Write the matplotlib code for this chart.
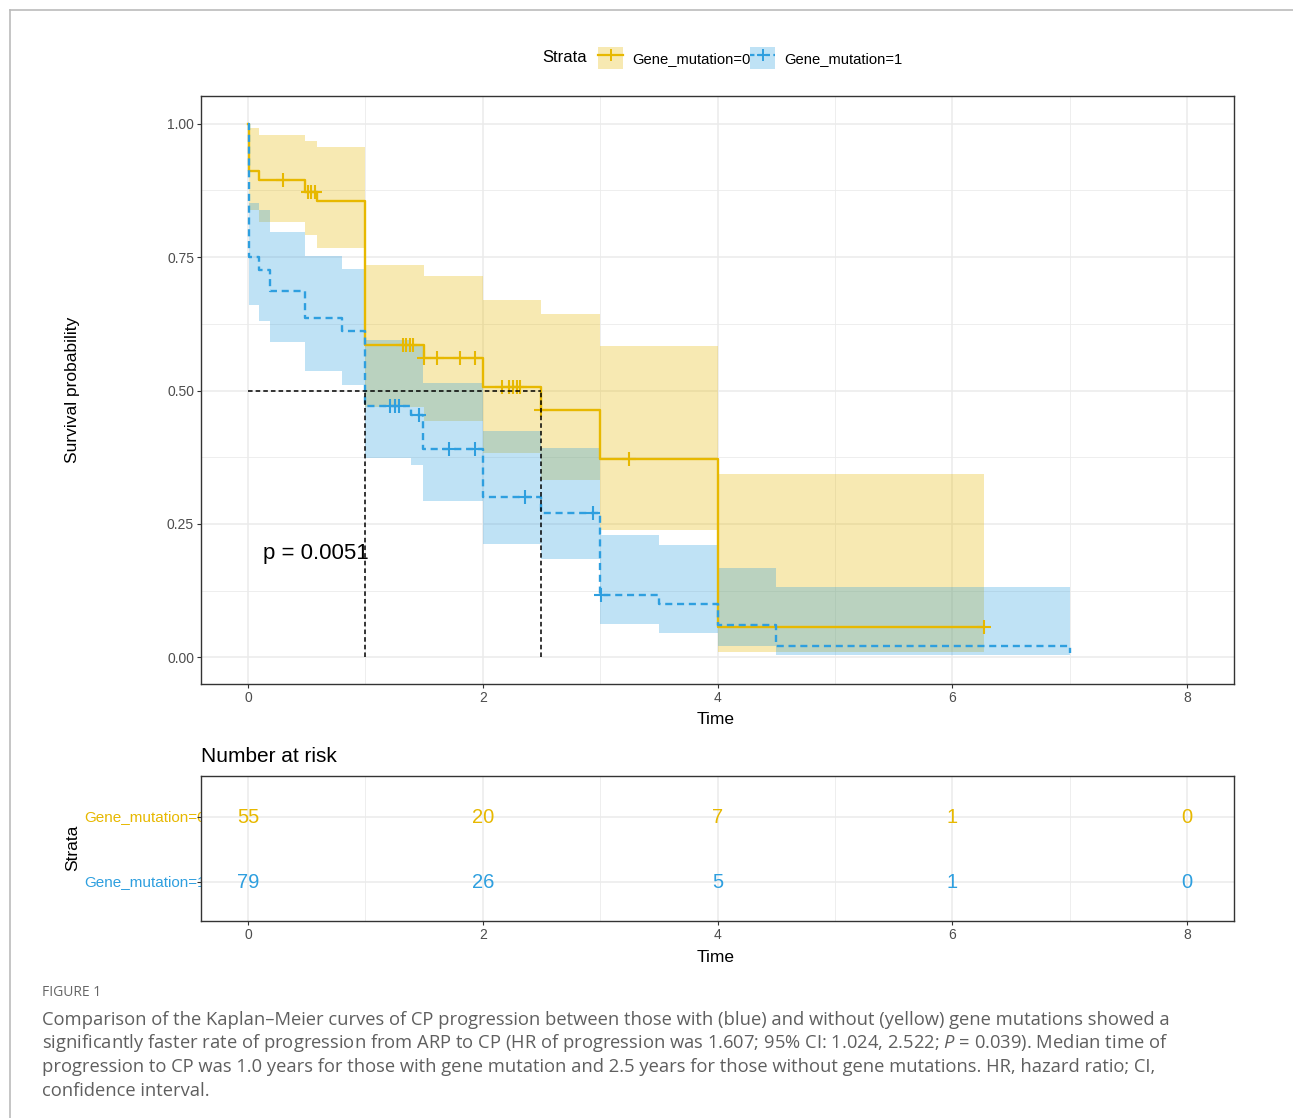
import numpy as np
import matplotlib
matplotlib.use("Agg")
import matplotlib.pyplot as plt
import matplotlib.transforms as mtransforms
from matplotlib.lines import Line2D
from matplotlib.patches import Patch

plt.rcParams['font.family'] = ['Liberation Sans', 'DejaVu Sans']
plt.rcParams['mathtext.fontset'] = 'custom'
plt.rcParams['mathtext.rm'] = 'Open Sans'
plt.rcParams['mathtext.it'] = 'Open Sans:italic'

# ---- data ----
strata = ['Gene_mutation=0', 'Gene_mutation=1']
colors = ['#E7B800', '#2E9FDF']

# Gene_mutation=0 (yellow)
time0 = [0, 0.005, 0.09, 0.49, 0.59, 1.0, 1.5, 2.0, 2.5, 3.0, 4.0]
surv0 = [1.0, 0.912, 0.894, 0.873, 0.856, 0.586, 0.561, 0.506, 0.464, 0.371, 0.056]
upper0 = [1.0, 0.992, 0.979, 0.968, 0.956, 0.736, 0.714, 0.670, 0.644, 0.584, 0.344]
lower0 = [1.0, 0.839, 0.815, 0.791, 0.767, 0.470, 0.443, 0.382, 0.333, 0.238, 0.010]
end0 = 6.27
cens0 = [0.30, 0.51, 0.54, 0.57, 1.32, 1.35, 1.38, 1.41, 1.5, 1.61, 1.81, 1.93,
         2.16, 2.22, 2.26, 2.29, 2.32, 2.5, 3.25, 6.27]

# Gene_mutation=1 (blue)
time1 = [0, 0.005, 0.09, 0.19, 0.49, 0.80, 1.0, 1.39, 1.49, 2.0, 2.5, 3.0, 3.5, 4.0, 4.5, 7.0]
surv1 = [1.0, 0.750, 0.725, 0.687, 0.636, 0.611, 0.471, 0.455, 0.390, 0.300, 0.270, 0.117,
         0.099, 0.060, 0.021, 0.008]
upper1 = [1.0, 0.851, 0.839, 0.798, 0.752, 0.728, 0.595, 0.585, 0.514, 0.424, 0.393, 0.230,
          0.210, 0.168, 0.132, 0.132]
lower1 = [1.0, 0.661, 0.631, 0.591, 0.537, 0.511, 0.374, 0.361, 0.293, 0.212, 0.185, 0.062,
          0.046, 0.022, 0.004, 0.004]
end1 = 7.0
cens1 = [1.21, 1.25, 1.29, 1.46, 1.71, 1.93, 2.36, 2.94, 3.01]

risk_times = [0, 2, 4, 6, 8]
risk0 = [55, 20, 7, 1, 0]
risk1 = [79, 26, 5, 1, 0]

p_text = 'p = 0.0051'

caption_title = 'FIGURE 1'
caption_lines = [
    'Comparison of the Kaplan\u2013Meier curves of CP progression between those with (blue) and without (yellow) gene mutations showed a',
    'significantly faster rate of progression from ARP to CP (HR of progression was 1.607; 95% CI: 1.024, 2.522; $\\mathit{P}$ = 0.039). Median time of',
    'progression to CP was 1.0 years for those with gene mutation and 2.5 years for those without gene mutations. HR, hazard ratio; CI,',
    'confidence interval.',
]

grid_c = '#EBEBEB'
tick_c = '#4D4D4D'
W, H = 1293, 1118


def style_axes(ax):
    for s in ax.spines.values():
        s.set_color('#333333')
        s.set_linewidth(1.0)
    ax.set_xlim(-0.4, 8.4)
    ax.set_xticks([0, 2, 4, 6, 8])
    ax.set_xticks([1, 3, 5, 7], minor=True)
    ax.grid(True, which='major', color=grid_c, lw=1.1, zorder=0)
    ax.grid(True, which='minor', color=grid_c, lw=0.6, zorder=0)
    ax.set_axisbelow(True)
    ax.tick_params(which='major', length=3, width=0.8, color='#333333',
                   labelcolor=tick_c, labelsize=10, pad=2)
    ax.tick_params(which='minor', length=0)


fig = plt.figure(figsize=(W / 100, H / 100), dpi=100)

ax = fig.add_axes([201 / W, 1 - 684 / H, 1033 / W, 588 / H])
style_axes(ax)
ax.set_ylim(-0.05, 1.052)
ax.set_yticks([0, 0.25, 0.5, 0.75, 1.0])
ax.set_yticks([0.125, 0.375, 0.625, 0.875], minor=True)
ax.set_yticklabels(['0.00', '0.25', '0.50', '0.75', '1.00'])

groups = [
    (time0, surv0, upper0, lower0, end0, cens0, '-'),
    (time1, surv1, upper1, lower1, end1, cens1, (0, (3, 2))),
]

for (tt, ss, uu, ll, te, cc, ls), col in zip(groups, colors):
    tx = np.append(tt, te)
    ax.fill_between(tx, np.append(ll, ll[-1]), np.append(uu, uu[-1]), step='post',
                    color=col, alpha=0.3, lw=0, zorder=2)

for (tt, ss, uu, ll, te, cc, ls), col in zip(groups, colors):
    tx = np.append(tt, te)
    ax.step(tx, np.append(ss, ss[-1]), where='post', color=col, lw=1.7, ls=ls, zorder=4)
    idx = np.searchsorted(tt, cc, side='right') - 1
    ax.plot(cc, np.array(ss)[idx], ls='none', marker='+', ms=10, mew=1.5, color=col, zorder=5)

# median survival lines
medians = []
for tt, ss in [(time0, surv0), (time1, surv1)]:
    i = np.argmax(np.array(ss) <= 0.5)
    medians.append(tt[i])
ax.plot([0, max(medians)], [0.5, 0.5], color='black', ls=(0, (3, 2)), lw=1.1, zorder=6)
for m in medians:
    ax.plot([m, m], [0, 0.5], color='black', ls=(0, (3, 2)), lw=1.1, zorder=6)

ax.text(0.13, 0.195, p_text, fontsize=16, va='center', ha='left', zorder=7)

fig.text(73 / W, 1 - 390 / H, 'Survival probability', rotation=90, fontsize=12.5,
         ha='center', va='center')
fig.text(716 / W, 1 - 720 / H, 'Time', fontsize=12.5, ha='center', va='center')

# legend
fig.text(565 / W, 1 - 58 / H, 'Strata', fontsize=12, ha='center', va='center')
handles = []
for col, ls in zip(colors, ['-', (0, (2, 1.5))]):
    handles.append((Patch(facecolor=col, alpha=0.3, edgecolor='none'),
                    Line2D([], [], color=col, ls=ls, lw=1.6, marker='+', ms=9, mew=1.4)))
fig.legend(handles, strata, loc='center left', bbox_to_anchor=(598 / W, 1 - 58 / H),
           ncol=2, frameon=False, fontsize=10.6, handlelength=1.7, handleheight=1.9,
           handletextpad=0.6, columnspacing=0.0, borderpad=0, borderaxespad=0)

# risk table
axr = fig.add_axes([201 / W, 1 - 921 / H, 1033 / W, 145 / H])
style_axes(axr)
axr.set_ylim(0.4, 2.632)
axr.set_yticks([1, 2])
axr.set_yticklabels([])
axr.tick_params(axis='y', length=3)
for t, n0, n1 in zip(risk_times, risk0, risk1):
    axr.text(t, 2, str(n0), color=colors[0], fontsize=14.5, ha='center', va='center')
    axr.text(t, 1, str(n1), color=colors[1], fontsize=14.5, ha='center', va='center')
tr = mtransforms.blended_transform_factory(fig.transFigure, axr.transData)
for lab, yv, col in zip(strata, [2, 1], colors):
    fig.text(206 / W, yv, lab, transform=tr, color=col, fontsize=11,
             ha='right', va='center', zorder=-1)
fig.text(201 / W, 1 - 757 / H, 'Number at risk', fontsize=15, ha='left', va='center')
fig.text(73 / W, 1 - 848 / H, 'Strata', rotation=90, fontsize=12.5, ha='center', va='center')
fig.text(716 / W, 1 - 957 / H, 'Time', fontsize=12.5, ha='center', va='center')

# caption
fig.text(42 / W, 1 - 993 / H, caption_title, fontsize=10, color='#666666',
         family='Open Sans', ha='left', va='center')
for k, line in enumerate(caption_lines):
    fig.text(42 / W, 1 - (1020 + 23.5 * k) / H, line, fontsize=13.2, color='#5f5f5f',
             family='Open Sans', ha='left', va='center')

# page frame
fig.add_artist(Line2D([10 / W, 1.0], [1 - 10 / H, 1 - 10 / H], color='#bbbbbb', lw=1.2))
fig.add_artist(Line2D([10 / W, 10 / W], [0, 1 - 10 / H], color='#bbbbbb', lw=1.2))

fig.savefig('out.png', dpi=100)
